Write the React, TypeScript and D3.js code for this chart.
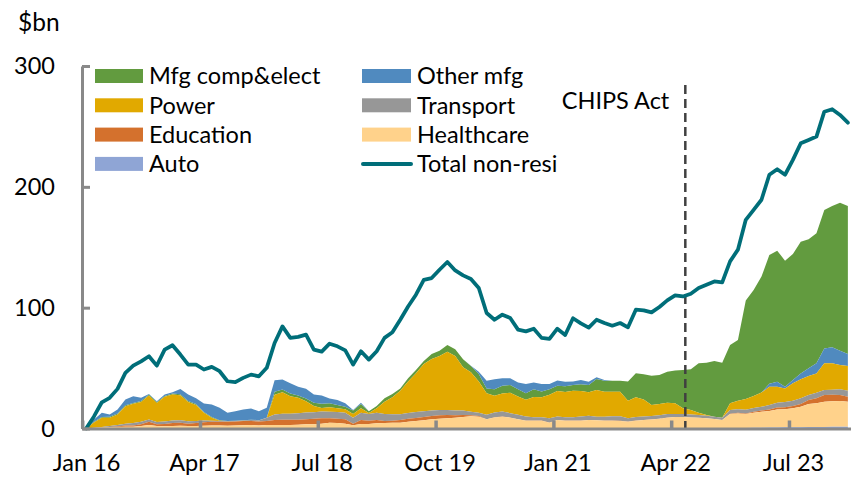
import { useEffect, useRef } from "react";
import * as d3 from "d3";

// monthly, Jan 2016 .. Feb 2024, change vs Jan 2016 ($bn)
const months = d3.timeMonth.range(new Date(2016, 0, 1), new Date(2024, 2, 1));
const tickLabels = ["Jan 16", "Apr 17", "Jul 18", "Oct 19", "Jan 21", "Apr 22", "Jul 23"];
const yTicks = [0, 100, 200, 300];
const chipsActMonth = "May 22";

const totalNonResi = [
  0, 10, 21.7, 25.4, 32.8, 46, 52, 55.6, 59.8, 52,
  65.3, 68.9, 61.2, 52.9, 52.9, 48.8, 51, 47.4, 39.1, 38.3,
  41.9, 44.6, 43.2, 50.2, 70.8, 84.5, 75, 75.8, 77.7, 65.3,
  63.6, 70.2, 68, 64.7, 52.9, 63.9, 57, 63.9, 75, 79.6,
  90, 101, 110.7, 123, 124.5, 131.4, 137.8, 130.8, 126.7, 123.7,
  116.3, 95.6, 90, 94.2, 91.5, 81.8, 80.4, 82.6, 75, 74.1,
  82.6, 77.4, 91.2, 87, 83.5, 90, 87.3, 85.1, 87.3, 83.7,
  98.3, 97.8, 96.1, 100.6, 106, 110.2, 109.3, 111.6, 116.3, 119,
  121.7, 120.9, 138.3, 148, 172.7, 181, 189.3, 210, 214.6, 210,
  222.3, 236.1, 238.8, 241.6, 262.2, 264.2, 259.5, 253.1,
];

const auto = [
  0, 0.2, 0.2, 0.2, 0.2, 0.2, 0.2, 0.2, 0.2, 0.2,
  0.2, 0.2, 0.2, 0.2, 0.2, 0.2, 0.2, 0.2, 0.2, 0.2,
  0.2, 0.2, 0.2, 0.2, 0.2, 0.2, 0.2, 0.2, 0.2, 0.2,
  0.2, 0.2, 0.2, 0.2, 0.2, 0.2, 0.2, 0.2, 0.2, 0.2,
  0.2, 0.2, 0.2, 0.2, 0.2, 0.2, 0.2, 0.2, 0.2, 0.2,
  0.2, 0.2, 0.2, 0.2, 0.2, 0.2, 0.2, 0.2, 0.2, 0.2,
  0.2, 0.2, 0.2, 0.2, 0.2, 0.2, 0.2, 0.2, 0.2, 0.2,
  0.2, 0.2, 0.2, 0.2, 0.2, 0.2, 0.2, 0.2, 0.2, 0.2,
  0.2, 0.2, 0.2, 0.2, 0.5, 0.6, 0.7, 0.8, 0.9, 1.0,
  1.0, 1.1, 1.2, 1.2, 1.3, 1.4, 1.5, 1.5,
];

const healthcare = [
  0, 0.3, 0.6, 0.8, 1.0, 1.3, 1.3, 1.8, 2.8, 1.8,
  1.6, 1.8, 2.0, 1.8, 1.8, 2.0, 2.3, 2.3, 2.1, 2.3,
  2.5, 2.6, 2.3, 2.6, 2.8, 2.8, 2.8, 3.0, 3.3, 3.3,
  3.8, 4.6, 4.4, 3.8, 2.4, 3.5, 3.5, 4.1, 4.4, 4.6,
  4.6, 5.4, 6.0, 6.6, 7.4, 7.9, 8.2, 8.8, 9.3, 9.9,
  9.6, 7.4, 9.0, 9.6, 8.8, 7.4, 6.3, 6.3, 6.3, 4.6,
  6.8, 6.3, 6.3, 6.3, 6.8, 6.6, 6.3, 6.3, 6.1, 5.4,
  6.3, 6.8, 7.3, 7.8, 8.8, 9.3, 9.3, 9.0, 8.7, 8.2,
  7.6, 6.8, 11.8, 12.3, 11.5, 12.4, 13.2, 13.7, 14.9, 15.0,
  15.7, 16.9, 19.1, 19.8, 20.9, 21.1, 21.2, 20.7,
];

const education = [
  0, 0, 0.2, 0.3, 0.5, 1.0, 1.0, 1.5, 2.5, 1.5,
  2.0, 2.5, 2.5, 2.0, 2.5, 3.0, 3.0, 3.0, 3.2, 3.2,
  3.5, 3.5, 3.2, 3.5, 4.0, 4.2, 4.2, 4.0, 4.2, 4.5,
  4.5, 3.6, 3.5, 3.6, 1.4, 3.3, 2.8, 2.7, 1.6, 1.7,
  2.2, 2.5, 2.5, 2.7, 2.8, 2.8, 2.8, 1.9, 1.7, 0.8,
  0.6, 0.1, 0.1, 0.1, 0.1, 0.1, 0.1, 0.1, 0.1, 0.1,
  0.1, 0.1, 0.1, 0.1, 0.1, 0.1, 0.1, 0.1, 0.1, 0.1,
  0.1, 0.1, 0.1, 0.1, 0.1, 0.1, 0.1, 0.1, 0.1, 0.1,
  0.1, 0.1, 0.3, 0.5, 0.5, 0.8, 1.0, 1.2, 1.5, 1.5,
  1.9, 2.3, 3.3, 4.0, 5.5, 5.5, 5.0, 4.1,
];

const transport = [
  0, 0.2, 0.3, 0.8, 1.2, 1.5, 2.0, 2.0, 2.0, 1.8,
  2.0, 2.2, 2.2, 2.0, 1.8, 1.5, 1.0, 0.8, 0.5, 0.5,
  0.5, 0.8, 1.0, 2.5, 4.5, 5.0, 5.0, 5.5, 5.5, 5.5,
  5.5, 5.5, 5.6, 5.5, 5.0, 6.1, 5.5, 6.1, 5.8, 5.2,
  4.7, 4.7, 5.0, 4.7, 4.6, 4.4, 4.1, 4.1, 3.6, 3.0,
  2.7, 3.6, 3.9, 4.1, 3.6, 3.6, 3.3, 2.7, 2.7, 3.6,
  2.8, 2.7, 2.7, 3.3, 3.4, 2.9, 3.2, 3.5, 3.7, 2.7,
  2.9, 2.9, 2.8, 2.9, 2.9, 2.4, 2.4, 2.3, 2.2, 2.0,
  1.9, 1.9, 3.0, 3.0, 3.0, 3.2, 3.1, 3.8, 4.1, 4.5,
  4.4, 4.7, 4.1, 4.5, 4.1, 4.0, 4.7, 5.0,
];

const power = [
  0, 4.3, 7.5, 6.9, 8.7, 14.4, 15.9, 16.5, 19.8, 15.9,
  20.4, 21.4, 20.6, 16.0, 13.2, 6.3, 2.5, 0.2, 0, 0,
  0, 0, 0, 0, 16.5, 17.8, 14.5, 12.7, 9.4, 5.1,
  3.0, 3.6, 3.0, 2.8, 3.0, 3.6, 0.8, 3.6, 10.2, 14.1,
  19.6, 26.0, 32.0, 39.2, 42.5, 44.7, 48.3, 45.0, 35.8, 32.6,
  25.7, 17.9, 13.9, 14.9, 16.8, 15.2, 13.8, 16.8, 16.5, 19.4,
  21.1, 21.0, 22.0, 21.2, 19.6, 22.1, 20.7, 20.4, 20.4, 14.6,
  16.3, 14.1, 9.1, 9.3, 9.4, 8.8, 4.7, 3.7, 1.9, 0.7,
  0, 0, 5.5, 7.0, 9.0, 9.9, 11.7, 15.1, 13.2, 11.2,
  14.4, 15.7, 15.7, 16.1, 22.1, 21.9, 20.1, 20.4,
];

const mfgCompElect = [
  0, 0.5, 0.8, 0.8, 0.8, 0.8, 0.8, 0.8, 0.8, 0.8,
  0.8, 0.8, 0.8, 0.8, 0.8, 0.6, 0.5, 0.3, 0.2, 0.2,
  0.2, 0.2, 0.2, 0.2, 2.5, 2.2, 2.2, 1.9, 2.2, 2.8,
  3.4, 3.3, 2.8, 2.2, 2.8, 3.6, 1.5, 1.9, 2.8, 2.8,
  1.9, 2.7, 2.7, 2.5, 4.2, 4.4, 5.5, 5.5, 6.7, 5.2,
  6.3, 4.0, 5.4, 6.4, 6.6, 6.0, 5.5, 6.4, 4.8, 4.6,
  4.3, 4.7, 4.7, 5.5, 6.0, 9.0, 9.1, 9.1, 9.1, 15.8,
  19.9, 20.7, 24.2, 24.0, 25.6, 27.1, 31.7, 33.7, 40.8, 43.3,
  46.1, 45.5, 48.3, 50.3, 81.4, 87.7, 96.0, 106.5, 108.6, 104.3,
  104.3, 109.0, 106.8, 107.6, 114.5, 116.9, 122.5, 122.5,
];

const otherMfg = [
  0, 1.9, 3.4, 1.8, 3.3, 4.8, 5.5, 2.6, 0.5, 0.5,
  1.1, 1.1, 4.3, 5.4, 4.7, 7.1, 10.3, 10.3, 6.8, 7.9,
  8.8, 9.2, 7.4, 8.1, 9.4, 8.3, 8.6, 7.2, 8.0, 6.8,
  6.9, 4.1, 4.1, 2.7, 0.5, 1.1, 0, 0, 0, 0,
  0, 0, 0, 0, 0, 0, 0, 0, 0, 0.3,
  1.9, 6.4, 8.3, 6.3, 5.5, 5.5, 7.7, 5.5, 6.3, 4.4,
  4.4, 3.6, 2.8, 3.6, 2.5, 1.5, 0.5, 0, 0, 0,
  0, 0, 0, 0, 0, 0, 0, 0, 0, 0,
  0, 0, 0, 0, 0, 0, 0, 2.5, 4.0, 1.4,
  2.7, 4.9, 6.4, 8.3, 12.4, 13.3, 11.9, 9.9,
];

const series = [
  { key: "mfgCompElect", name: "Mfg comp&elect", values: mfgCompElect, color: "#629B3F" },
  { key: "otherMfg", name: "Other mfg", values: otherMfg, color: "#508ABF" },
  { key: "power", name: "Power", values: power, color: "#E1A900" },
  { key: "transport", name: "Transport", values: transport, color: "#979797" },
  { key: "education", name: "Education", values: education, color: "#D4712D" },
  { key: "healthcare", name: "Healthcare", values: healthcare, color: "#FFD28B" },
  { key: "auto", name: "Auto", values: auto, color: "#8FA5D5" },
];

// the two manufacturing layers swap places in the source once Other mfg is back in 2023
const mfgSwap = new Date(2022, 0, 1);
const lowerKeys = ["auto", "healthcare", "education", "transport", "power"];

const FONT = "Lato, 'Open Sans', sans-serif";
const axisGrey = "#898989";
const teal = "#006E79";
const fmtMonth = d3.timeFormat("%b %y");

export default function App() {
  const yAxisRef = useRef<SVGGElement>(null);
  const xTickRef = useRef<SVGGElement>(null);
  const xLabelRef = useRef<SVGGElement>(null);

  const x = d3.scaleLinear().domain([-0.5, months.length - 0.5]).range([82.2, 851.8]);
  const y = d3.scaleLinear().domain([0, 300]).range([428.5, 66]);

  const byKey = Object.fromEntries(series.map(s => [s.key, s]));

  // stack month by month
  const bands: Record<string, [number, number][]> = {};
  series.forEach(s => (bands[s.key] = []));
  months.forEach((m, i) => {
    const order = m < mfgSwap
      ? [...lowerKeys, "mfgCompElect", "otherMfg"]
      : [...lowerKeys, "otherMfg", "mfgCompElect"];
    let base = 0;
    order.forEach(k => {
      const v = byKey[k].values[i];
      bands[k].push([base, base + v]);
      base += v;
    });
  });

  const area = d3.area<[number, number]>()
    .x((_, i) => x(i))
    .y0(d => y(d[0]))
    .y1(d => y(d[1]));

  const line = d3.line<number>()
    .x((_, i) => x(i))
    .y(d => y(d));

  const labelIdx = tickLabels.map(l => months.findIndex(m => fmtMonth(m) === l));
  const chipsIdx = months.findIndex(m => fmtMonth(m) === chipsActMonth) + 0.3;

  useEffect(() => {
    const gy = d3.select(yAxisRef.current!);
    gy.selectAll("*").remove();
    gy.call(d3.axisLeft(y).tickValues(yTicks).tickSize(-8).tickSizeOuter(0).tickPadding(27));
    gy.select(".domain").attr("stroke", axisGrey).attr("stroke-width", 3);
    gy.selectAll(".tick line").attr("stroke", axisGrey).attr("stroke-width", 3);
    gy.selectAll(".tick text")
      .attr("font-family", FONT).attr("font-size", 23.5).attr("fill", "#000");

    const gt = d3.select(xTickRef.current!);
    gt.selectAll("*").remove();
    gt.call(d3.axisBottom(x).tickValues(labelIdx.map(i => i - 0.5))
      .tickSize(-8).tickSizeOuter(0).tickFormat(() => ""));
    gt.select(".domain").attr("stroke", axisGrey).attr("stroke-width", 3);
    gt.selectAll(".tick line").attr("stroke", axisGrey).attr("stroke-width", 3.5);

    const gl = d3.select(xLabelRef.current!);
    gl.selectAll("*").remove();
    gl.call(d3.axisBottom(x).tickValues(labelIdx).tickSize(0).tickPadding(26)
      .tickFormat(i => fmtMonth(months[+i])));
    gl.select(".domain").remove();
    gl.selectAll(".tick text")
      .attr("font-family", FONT).attr("font-size", 23.5).attr("fill", "#000");
  }, []);

  const col1 = ["mfgCompElect", "power", "education", "auto"];
  const col2 = ["otherMfg", "transport", "healthcare"];
  const rowY = (r: number) => 76 + r * 29.3;

  return (
    <svg width={851} height={477} style={{ position: "absolute", left: 0, top: 0, background: "#fff" }}>
      {series.map(s => (
        <path key={s.key} d={area(bands[s.key]) || ""} fill={s.color} />
      ))}

      <line x1={x(chipsIdx)} x2={x(chipsIdx)} y1={85} y2={y(0)}
        stroke="#404040" strokeWidth={2.5} strokeDasharray="9,5" />
      <text x={x(chipsIdx) - 16} y={101} dy="0.35em" textAnchor="end"
        fontFamily={FONT} fontSize={23.5}>CHIPS Act</text>

      <path d={line(totalNonResi) || ""} fill="none" stroke={teal} strokeWidth={3.75}
        strokeLinejoin="round" strokeLinecap="round" />

      <g ref={yAxisRef} transform="translate(82,0)" />
      <g ref={xTickRef} transform={`translate(0,${y(0)})`} />
      <g ref={xLabelRef} transform={`translate(0,${y(0)})`} />

      <text x={18} y={22} dy="0.35em" fontFamily={FONT} fontSize={24.5}>$bn</text>

      <g fontFamily={FONT} fontSize={23.5}>
        {col1.map((k, r) => (
          <g key={k}>
            <rect x={95} y={rowY(r) - 7} width={48} height={14} fill={byKey[k].color} />
            <text x={149} y={rowY(r)} dy="0.35em">{byKey[k].name}</text>
          </g>
        ))}
        {col2.map((k, r) => (
          <g key={k}>
            <rect x={362} y={rowY(r) - 7} width={49} height={14} fill={byKey[k].color} />
            <text x={417} y={rowY(r)} dy="0.35em">{byKey[k].name}</text>
          </g>
        ))}
        <line x1={363} x2={411} y1={rowY(3)} y2={rowY(3)} stroke={teal} strokeWidth={4} strokeLinecap="round" />
        <text x={417} y={rowY(3)} dy="0.35em">Total non-resi</text>
      </g>
    </svg>
  );
}
